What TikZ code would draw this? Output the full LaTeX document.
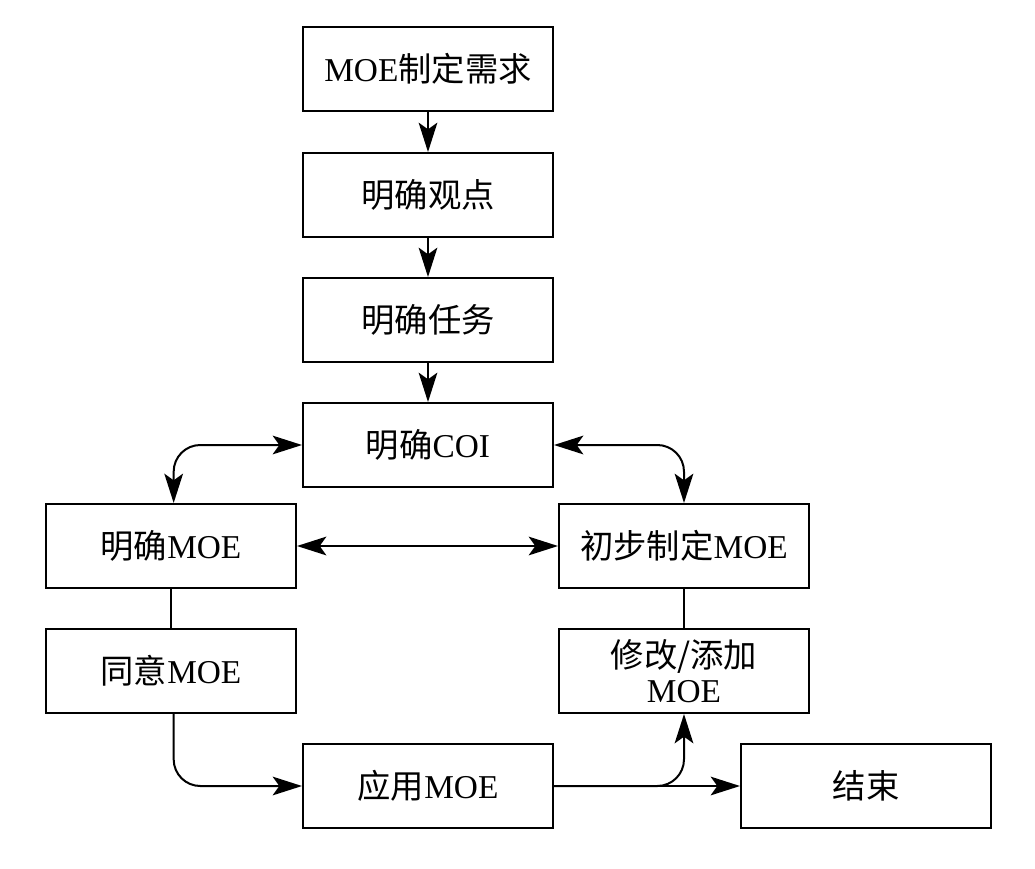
\documentclass[tikz,border=0pt]{standalone}
\usepackage{fontspec}
\setmainfont{Liberation Serif}
\newfontfamily\cjk{Noto Sans CJK SC}
\usetikzlibrary{arrows.meta}
\begin{document}
\begin{tikzpicture}[x=0.75pt,y=-0.75pt,
  box/.style={draw, line width=1.5pt, minimum width=187.5pt, minimum height=63pt, inner sep=0pt, align=center, font=\fontsize{25}{26}\selectfont},
  conn/.style={line width=1.5pt},
  arr/.style={conn, -{Stealth[length=22pt,width=14pt,inset=5pt]}},
  darr/.style={conn, {Stealth[length=22pt,width=14pt,inset=5pt]}-{Stealth[length=22pt,width=14pt,inset=5pt]}}]
\useasboundingbox (0,0) rectangle (1035,868);
\node[box] (need) at (428,69) {MOE{\cjk 制定需求}};
\node[box] (view) at (428,195) {{\cjk 明确观点}};
\node[box] (task) at (428,320) {{\cjk 明确任务}};
\node[box] (coi) at (428,445) {{\cjk 明确}COI};
\node[box] (moe) at (171,546) {{\cjk 明确}MOE};
\node[box] (init) at (684,546) {{\cjk 初步制定}MOE};
\node[box] (agree) at (171,671) {{\cjk 同意}MOE};
\node[box] (mod) at (684,671) {{\cjk 修改/添加}\\MOE};
\node[box] (apply) at (428,786) {{\cjk 应用}MOE};
\node[box] (end) at (866,786) {{\cjk 结束}};
\draw[arr] (need) -- (view);
\draw[arr] (view) -- (task);
\draw[arr] (task) -- (coi);
\draw[darr, rounded corners=20pt] (coi.west) -| ([xshift=2]moe.north);
\draw[darr, rounded corners=20pt] (coi.east) -| (init.north);
\draw[darr] (moe.east) -- (init.west);
\draw[conn] (moe.south) -- (agree.north);
\draw[conn] (init.south) -- (mod.north);
\draw[arr, rounded corners=20pt] ([xshift=2]agree.south) |- (apply.west);
\draw[arr] (apply.east) -- (end.west);
\draw[arr, rounded corners=20pt] (apply.east) -| (mod.south);
\end{tikzpicture}
\end{document}
